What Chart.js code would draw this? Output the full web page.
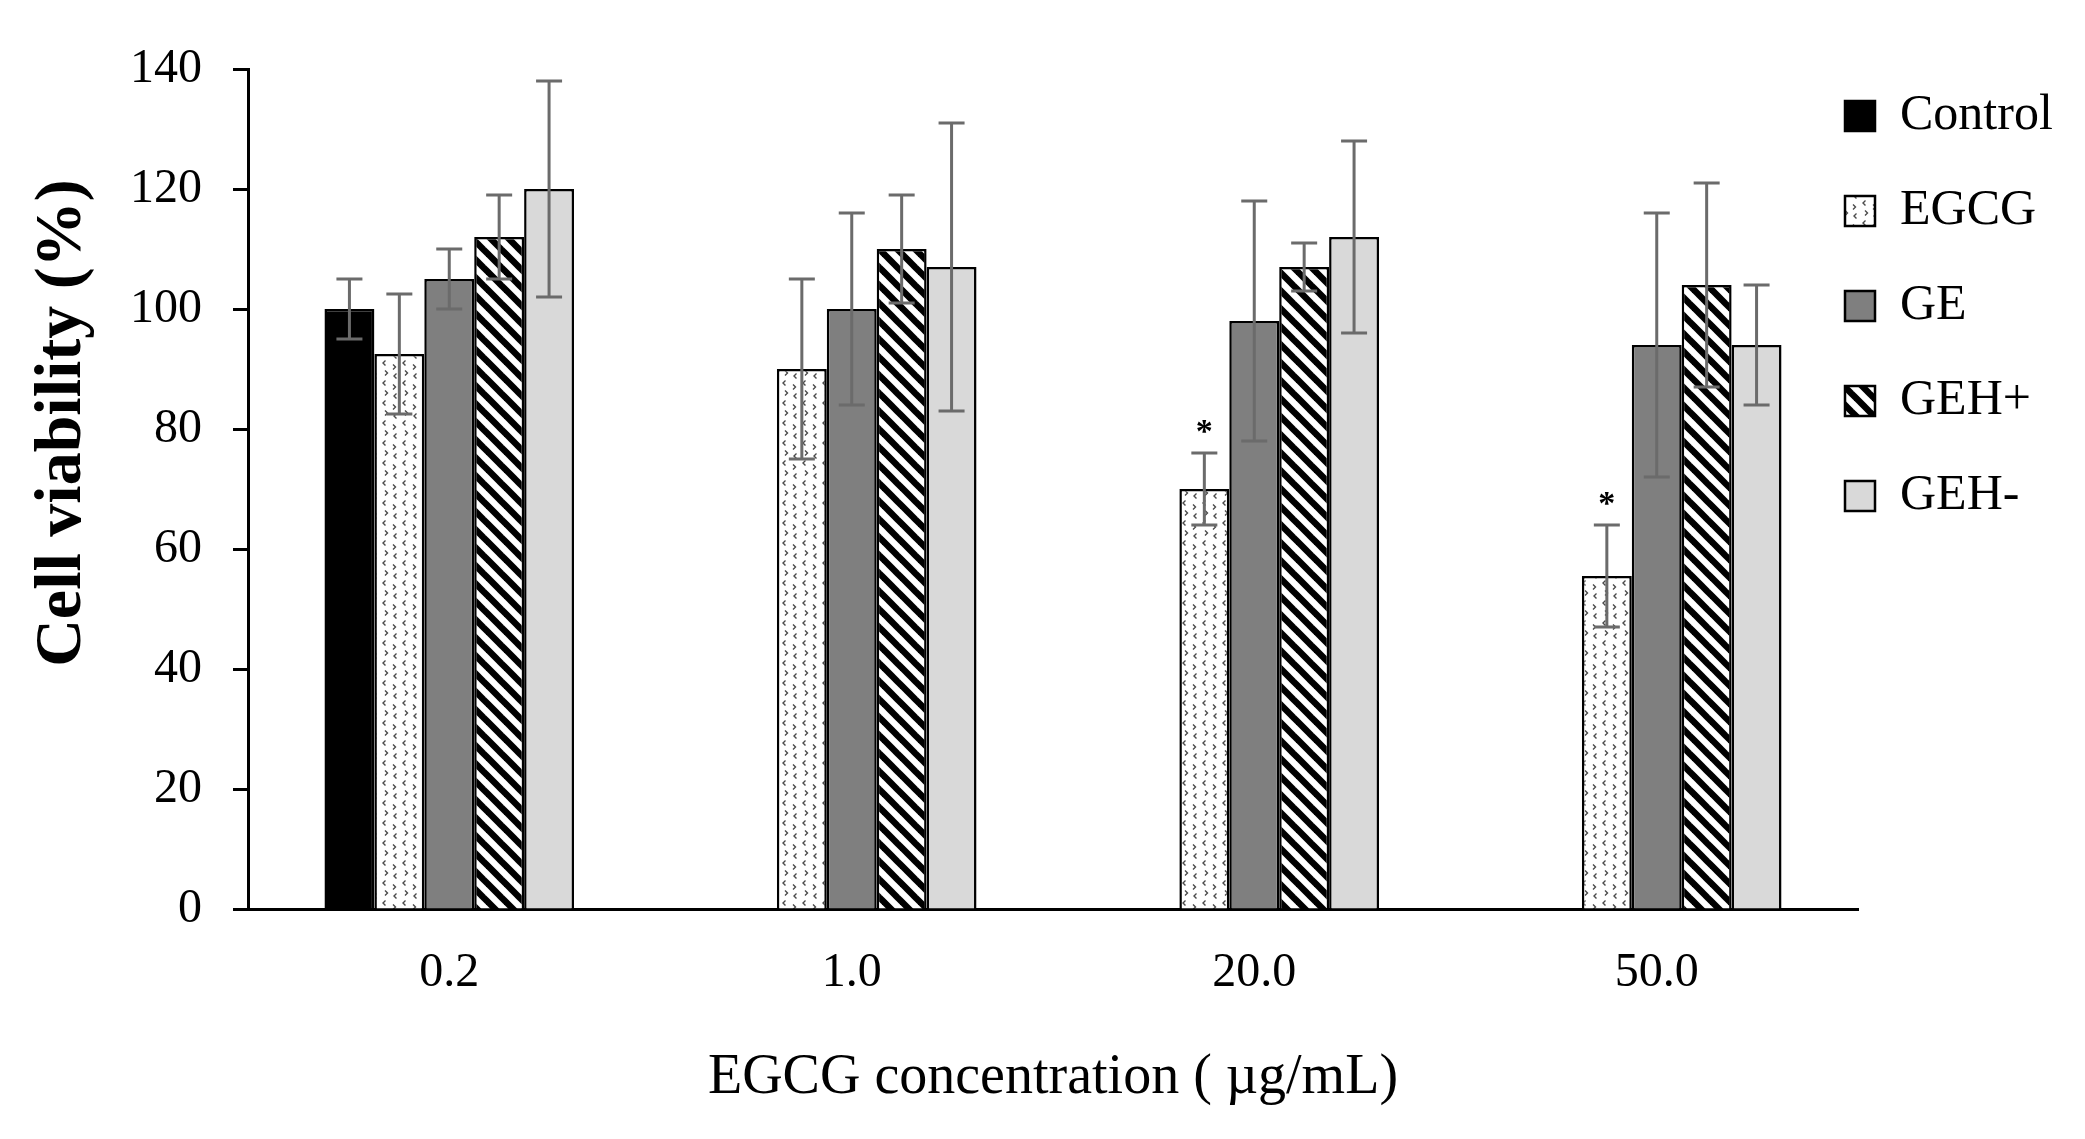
<!DOCTYPE html>
<html>
<head>
<meta charset="utf-8">
<title>Cell viability</title>
<script src="https://cdn.jsdelivr.net/npm/chart.js@4.4.1/dist/chart.umd.min.js"></script>
<style>
    html, body { margin: 0; padding: 0; background: #fff; }
    #wrap { width: 2085px; height: 1139px; position: relative; }
</style>
</head>
<body>
<div id="wrap"><canvas id="viabilityChart"></canvas></div>
<script>
// Cell viability (%) per EGCG concentration
const concentrations = ['0.2', '1.0', '20.0', '50.0'];
const controlValues = [100, null, null, null];
const controlErrors = [5, null, null, null];
const egcgValues = [92.5, 90, 70, 55.5];
const egcgErrors = [10, 15, 6, 8.5];
const egcgMarks = ['', '', '*', '*'];
const geValues = [105, 100, 98, 94];
const geErrors = [5, 16, 20, 22];
const gehPlusValues = [112, 110, 107, 104];
const gehPlusErrors = [7, 9, 4, 17];
const gehMinusValues = [120, 107, 112, 94];
const gehMinusErrors = [18, 24, 16, 10];
const yTickValues = [0, 20, 40, 60, 80, 100, 120, 140];

const FONT = "'Liberation Serif', 'Times New Roman', serif";
Chart.defaults.font.family = FONT;
Chart.defaults.color = '#000';

// Fill patterns similar to the Excel ones
function makeDotPattern() {
    const c = document.createElement('canvas');
    c.width = 20;
    c.height = 20;
    const g = c.getContext('2d');
    g.fillStyle = '#fff';
    g.fillRect(0, 0, 20, 20);
    g.strokeStyle = '#4a4a4a';
    g.lineWidth = 1.4;
    // [x, y, direction] : -1 draws "<", 1 draws ">"
    [[3, 3, -1], [13, 7, 1], [5, 13, 1], [14, 16, -1]].forEach(function(m) {
        const x = m[0], y = m[1];
        g.beginPath();
        if (m[2] < 0) {
            g.moveTo(x + 2.5, y - 2.5); g.lineTo(x, y); g.lineTo(x + 2.5, y + 2.5);
        } else {
            g.moveTo(x, y - 2.5); g.lineTo(x + 2.5, y); g.lineTo(x, y + 2.5);
        }
        g.stroke();
    });
    return g.createPattern(c, 'repeat');
}

function makeStripePattern() {
    const s = 18;
    const c = document.createElement('canvas');
    c.width = s;
    c.height = s;
    const g = c.getContext('2d');
    g.fillStyle = '#fff';
    g.fillRect(0, 0, s, s);
    g.strokeStyle = '#000';
    g.lineWidth = 6.5;
    [-s, 0, s].forEach(function(o) {
        g.beginPath();
        g.moveTo(o - 3, -3);
        g.lineTo(o + s + 3, s + 3);
        g.stroke();
    });
    return g.createPattern(c, 'repeat');
}

// Error bars and significance marks, positioned from the bar elements and y scale
const errorBars = {
    id: 'errorBars',
    afterDatasetsDraw(chart) {
        const ctx = chart.ctx;
        const yScale = chart.scales.y;
        const capHalf = 13;
        ctx.save();
        chart.data.datasets.forEach(function(ds, i) {
            const meta = chart.getDatasetMeta(i);
            meta.data.forEach(function(bar, j) {
                const v = ds.data[j];
                const e = ds.errors[j];
                if (v == null || e == null) return;
                const top = yScale.getPixelForValue(v + e);
                const bottom = yScale.getPixelForValue(v - e);
                ctx.strokeStyle = '#6b6b6b';
                ctx.lineWidth = 3;
                ctx.beginPath();
                ctx.moveTo(bar.x, top); ctx.lineTo(bar.x, bottom);
                ctx.moveTo(bar.x - capHalf, top); ctx.lineTo(bar.x + capHalf, top);
                ctx.moveTo(bar.x - capHalf, bottom); ctx.lineTo(bar.x + capHalf, bottom);
                ctx.stroke();
                const mark = ds.marks ? ds.marks[j] : '';
                if (mark) {
                    ctx.fillStyle = '#000';
                    ctx.font = 'bold 34px ' + FONT;
                    ctx.textAlign = 'center';
                    ctx.textBaseline = 'middle';
                    ctx.fillText(mark, bar.x, top - 20);
                }
            });
        });
        ctx.restore();
    }
};

// Move the legend so it sits next to the end of the x axis, like the original
// (only left/top move, so the legend's clip box still reaches the canvas edge)
const legendPlacement = {
    id: 'legendPlacement',
    afterLayout(chart) {
        const lg = chart.legend;
        const dx = 1845 - (lg.left + lg.options.labels.padding);
        const dy = -23;
        lg.left += dx;
        lg.top += dy;
        lg.width = lg.right - lg.left;
        lg.height = lg.bottom - lg.top;
    }
};

const ctx = document.getElementById('viabilityChart');
new Chart(ctx, {
    type: 'bar',
    data: {
        labels: concentrations,
        datasets: [{
            label: 'Control',
            data: controlValues,
            errors: controlErrors,
            backgroundColor: '#000000'
        }, {
            label: 'EGCG',
            data: egcgValues,
            errors: egcgErrors,
            marks: egcgMarks,
            backgroundColor: makeDotPattern()
        }, {
            label: 'GE',
            data: geValues,
            errors: geErrors,
            backgroundColor: '#7f7f7f'
        }, {
            label: 'GEH+',
            data: gehPlusValues,
            errors: gehPlusErrors,
            backgroundColor: makeStripePattern()
        }, {
            label: 'GEH-',
            data: gehMinusValues,
            errors: gehMinusErrors,
            backgroundColor: '#d9d9d9'
        }]
    },
    options: {
        responsive: true,
        maintainAspectRatio: false,
        animation: false,
        datasets: {
            bar: {
                borderColor: '#000',
                borderWidth: 2.5,
                categoryPercentage: 0.62,
                barPercentage: 1.0
            }
        },
        layout: {
            padding: { top: 69, left: 0, right: 0, bottom: 0 }
        },
        plugins: {
            tooltip: { enabled: false },
            legend: {
                position: 'right',
                align: 'start',
                maxWidth: 227,
                labels: {
                    boxWidth: 30,
                    boxHeight: 30,
                    padding: 45,
                    color: '#000',
                    font: { size: 50, family: FONT }
                }
            }
        },
        scales: {
            x: {
                afterFit(scale) { scale.height = 230; },
                grid: { display: false, drawTicks: false },
                border: { display: true, color: '#000', width: 3 },
                ticks: {
                    padding: 36,
                    color: '#000',
                    font: { size: 48, family: FONT }
                },
                title: {
                    display: true,
                    text: 'EGCG concentration ( µg/mL)',
                    color: '#000',
                    font: { size: 56, family: FONT },
                    padding: { top: 0, bottom: 27 }
                }
            },
            y: {
                afterFit(scale) { scale.width = 248; },
                min: yTickValues[0],
                max: yTickValues[yTickValues.length - 1],
                grid: {
                    drawOnChartArea: false,
                    drawTicks: true,
                    tickLength: 15,
                    tickWidth: 3,
                    tickColor: '#000',
                    color: '#000'
                },
                border: { display: true, color: '#000', width: 3 },
                ticks: {
                    stepSize: yTickValues[1] - yTickValues[0],
                    padding: 31,
                    color: '#000',
                    font: { size: 48, family: FONT }
                },
                title: {
                    display: true,
                    text: '\u2003\u2003Cell viability (%)',
                    color: '#000',
                    font: { size: 66, family: FONT, weight: 'bold' },
                    padding: { top: 23, bottom: 0 }
                }
            }
        }
    },
    plugins: [errorBars, legendPlacement]
});
</script>
</body>
</html>
